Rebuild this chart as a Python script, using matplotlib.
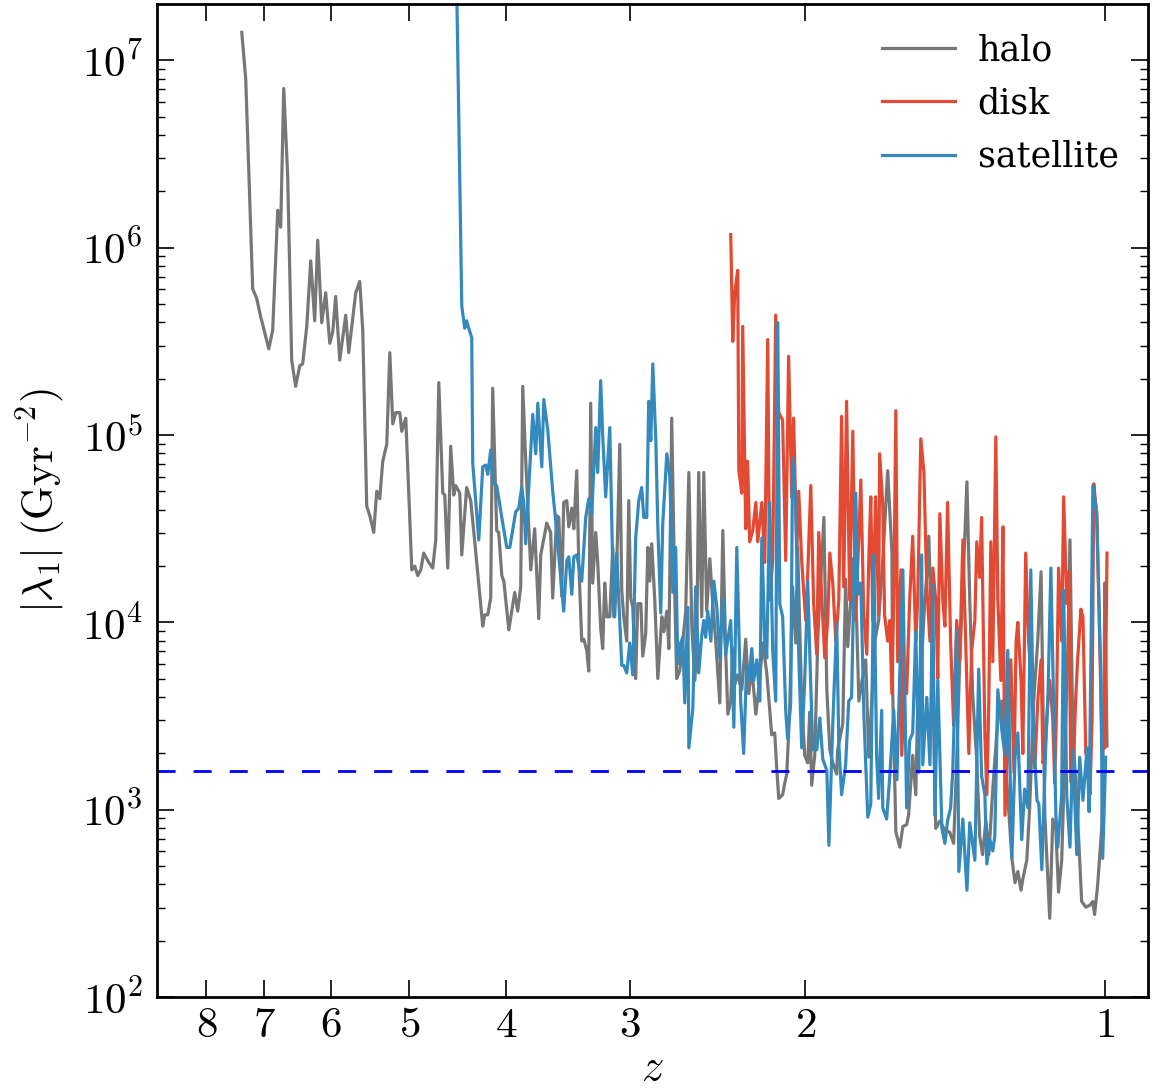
import numpy as np
import matplotlib
matplotlib.use('Agg')
import matplotlib.pyplot as plt
from matplotlib.ticker import FixedLocator, FixedFormatter, FuncFormatter, LogLocator, NullLocator

plt.rcParams['font.family'] = 'DejaVu Serif'
plt.rcParams['mathtext.fontset'] = 'cm'

# redshift of each snapshot and log10 |lambda_1| (Gyr^-2)
halo_z = [7.371, 7.304, 7.187, 7.121, 7.055, 7.022, 6.925, 6.862, 6.783, 6.736,
          6.689, 6.628, 6.567, 6.507, 6.446, 6.402, 6.342, 6.284, 6.226, 6.183,
          6.126, 6.070, 6.013, 5.972, 5.931, 5.876, 5.795, 5.755, 5.662, 5.610,
          5.571, 5.520, 5.481, 5.431, 5.394, 5.356, 5.319, 5.270, 5.233, 5.197,
          5.161, 5.113, 5.090, 5.043, 4.973, 4.939, 4.905, 4.871, 4.838, 4.782,
          4.738, 4.705, 4.672, 4.629, 4.608, 4.576, 4.545, 4.513, 4.492, 4.450,
          4.430, 4.380, 4.339, 4.299, 4.220, 4.201, 4.171, 4.143, 4.124, 4.086,
          4.067, 4.038, 4.019, 3.973, 3.919, 3.892, 3.865, 3.847, 3.821, 3.776,
          3.742, 3.707, 3.690, 3.639, 3.606, 3.589, 3.556, 3.539, 3.515, 3.499,
          3.474, 3.458, 3.434, 3.418, 3.395, 3.379, 3.356, 3.340, 3.317, 3.302,
          3.287, 3.272, 3.249, 3.234, 3.212, 3.197, 3.182, 3.167, 3.145, 3.123,
          3.109, 3.095, 3.073, 3.059, 3.045, 3.024, 3.010, 2.996, 2.982, 2.962,
          2.948, 2.927, 2.914, 2.894, 2.880, 2.867, 2.854, 2.834, 2.814, 2.788,
          2.775, 2.756, 2.743, 2.725, 2.706, 2.694, 2.675, 2.656, 2.638, 2.619,
          2.601, 2.583, 2.572, 2.560, 2.542, 2.530, 2.513, 2.495, 2.478, 2.461,
          2.438, 2.421, 2.405, 2.393, 2.377, 2.366, 2.355, 2.339, 2.317, 2.296,
          2.280, 2.264, 2.243, 2.227, 2.207, 2.187, 2.162, 2.147, 2.137, 2.127,
          2.108, 2.098, 2.088, 2.074, 2.060, 2.045, 2.036, 2.017, 2.003, 1.989,
          1.980, 1.971, 1.957, 1.943, 1.925, 1.916, 1.903, 1.890, 1.877, 1.860,
          1.856, 1.834, 1.822, 1.813, 1.801, 1.792, 1.776, 1.767, 1.755, 1.739,
          1.727, 1.715, 1.703, 1.688, 1.672, 1.653, 1.637, 1.634, 1.622, 1.607,
          1.596, 1.582, 1.575, 1.560, 1.549, 1.542, 1.528, 1.517, 1.510, 1.503,
          1.492, 1.479, 1.465, 1.448, 1.432, 1.419, 1.409, 1.399, 1.389, 1.376,
          1.367, 1.358, 1.345, 1.336, 1.327, 1.317, 1.308, 1.296, 1.281, 1.269,
          1.255, 1.240, 1.231, 1.223, 1.214, 1.209, 1.198, 1.190, 1.179, 1.168,
          1.159, 1.154, 1.149, 1.136, 1.128, 1.120, 1.113, 1.105, 1.097, 1.089,
          1.084, 1.077, 1.067, 1.055, 1.045, 1.035, 1.028, 1.024, 1.017, 1.007,
          1.002, 1.000, 0.995]
halo_loglam = [7.15, 6.90, 5.78, 5.73, 5.63, 5.59, 5.46, 5.56, 6.20, 6.11,
               6.85, 6.38, 5.40, 5.26, 5.37, 5.38, 5.58, 5.93, 5.61, 6.04,
               5.60, 5.76, 5.49, 5.55, 5.74, 5.40, 5.64, 5.44, 5.76, 5.82,
               5.56, 4.62, 4.57, 4.48, 4.70, 4.66, 4.86, 4.95, 5.44, 5.06,
               5.12, 5.12, 5.02, 5.09, 4.28, 4.30, 4.25, 4.28, 4.37, 4.32,
               4.29, 4.44, 5.28, 4.69, 4.68, 4.29, 4.94, 4.68, 4.73, 4.69,
               4.36, 4.72, 4.65, 4.43, 3.98, 4.04, 4.04, 4.13, 5.25, 4.49,
               4.48, 4.25, 4.22, 3.96, 4.16, 4.06, 4.19, 5.26, 4.87, 4.28,
               4.50, 4.02, 4.36, 4.53, 4.48, 4.13, 4.57, 4.56, 4.14, 4.64,
               4.65, 4.51, 4.61, 4.50, 4.81, 4.32, 3.90, 3.91, 3.85, 3.74,
               5.17, 4.21, 4.48, 4.32, 3.97, 3.86, 4.21, 4.03, 4.03, 4.40,
               4.03, 4.29, 4.95, 4.17, 4.03, 3.90, 4.65, 4.13, 4.08, 3.70,
               4.10, 4.10, 3.82, 3.94, 4.40, 4.22, 4.42, 4.12, 3.70, 4.03,
               3.95, 4.06, 3.86, 5.09, 4.16, 3.70, 3.74, 3.90, 4.06, 4.80,
               3.97, 3.69, 3.85, 4.80, 4.03, 4.80, 4.06, 4.34, 4.10, 3.90,
               3.57, 4.49, 3.85, 3.51, 3.58, 3.86, 3.67, 3.72, 3.64, 3.91,
               3.62, 3.76, 3.51, 3.65, 3.89, 3.73, 3.40, 3.41, 3.22, 3.06,
               3.08, 3.14, 3.19, 3.53, 4.19, 3.89, 4.40, 3.58, 3.29, 3.25,
               3.52, 3.13, 3.29, 3.92, 4.35, 4.56, 3.64, 3.32, 3.25, 3.19,
               3.32, 3.46, 4.23, 3.87, 4.11, 4.34, 4.00, 3.58, 3.68, 3.80,
               3.28, 3.58, 3.90, 4.01, 4.33, 4.81, 4.38, 3.64, 2.88, 2.80,
               2.91, 2.92, 2.97, 3.29, 3.08, 3.56, 3.80, 4.12, 4.25, 4.46,
               3.90, 2.90, 2.94, 2.89, 2.88, 2.82, 3.26, 3.80, 4.19, 4.75,
               4.12, 3.62, 3.26, 2.86, 2.76, 2.94, 2.76, 3.11, 3.49, 3.58,
               3.16, 2.74, 2.61, 2.67, 2.57, 2.63, 2.73, 3.01, 3.58, 3.90,
               4.27, 3.58, 2.97, 2.42, 2.95, 2.89, 2.56, 2.73, 3.29, 3.90,
               4.44, 3.41, 3.05, 2.51, 2.48, 2.49, 2.51, 2.44, 2.59, 2.91,
               3.58, 4.21, 3.34]

disk_z = [2.377, 2.366, 2.355, 2.339, 2.333, 2.317, 2.312, 2.296, 2.286, 2.275,
          2.259, 2.243, 2.233, 2.212, 2.197, 2.182, 2.172, 2.157, 2.142, 2.127,
          2.108, 2.093, 2.079, 2.064, 2.055, 2.040, 2.031, 2.017, 2.008, 1.998,
          1.989, 1.975, 1.962, 1.948, 1.939, 1.925, 1.912, 1.899, 1.890, 1.877,
          1.864, 1.851, 1.839, 1.830, 1.818, 1.805, 1.792, 1.780, 1.771, 1.759,
          1.747, 1.735, 1.727, 1.719, 1.711, 1.700, 1.688, 1.684, 1.672, 1.665,
          1.653, 1.645, 1.637, 1.630, 1.622, 1.615, 1.603, 1.600, 1.589, 1.582,
          1.571, 1.560, 1.549, 1.542, 1.531, 1.520, 1.510, 1.499, 1.489, 1.479,
          1.472, 1.465, 1.455, 1.448, 1.439, 1.429, 1.419, 1.409, 1.399, 1.389,
          1.380, 1.370, 1.361, 1.351, 1.345, 1.336, 1.330, 1.320, 1.314, 1.308,
          1.302, 1.296, 1.287, 1.281, 1.272, 1.266, 1.260, 1.252, 1.243, 1.234,
          1.228, 1.223, 1.214, 1.209, 1.201, 1.193, 1.184, 1.176, 1.168, 1.159,
          1.154, 1.149, 1.141, 1.136, 1.128, 1.123, 1.118, 1.113, 1.105, 1.100,
          1.092, 1.087, 1.082, 1.077, 1.070, 1.065, 1.057, 1.052, 1.045, 1.040,
          1.035, 1.030, 1.026, 1.019, 1.014, 1.007, 1.000, 0.995]
disk_loglam = [6.07, 5.50, 5.76, 5.88, 4.81, 4.69, 5.58, 4.50, 4.86, 4.43,
               4.49, 4.64, 4.43, 4.64, 4.32, 5.51, 4.12, 4.33, 5.64, 5.12,
               5.08, 4.33, 5.42, 4.67, 5.09, 4.37, 4.70, 4.33, 4.17, 4.01,
               4.26, 4.73, 4.10, 3.83, 4.48, 4.12, 3.81, 4.01, 4.37, 4.21,
               3.90, 4.12, 5.10, 4.19, 5.18, 4.12, 5.02, 4.01, 4.33, 4.76,
               4.04, 3.83, 4.33, 4.67, 4.01, 4.67, 4.04, 4.90, 4.63, 4.04,
               3.90, 4.01, 3.62, 4.12, 5.13, 3.79, 4.28, 3.29, 3.69, 3.62,
               4.12, 4.46, 3.90, 4.12, 4.98, 4.80, 4.19, 3.90, 4.29, 4.12,
               3.70, 4.58, 4.12, 3.98, 4.64, 3.90, 3.45, 4.01, 3.80, 4.44,
               3.90, 3.30, 3.85, 4.01, 4.43, 4.24, 4.56, 3.40, 3.08, 3.58,
               4.43, 3.79, 4.99, 4.12, 3.69, 4.51, 2.97, 3.35, 3.80, 3.20,
               3.90, 4.00, 3.69, 3.30, 4.37, 3.90, 3.64, 3.22, 3.58, 3.80,
               3.25, 3.30, 3.58, 3.69, 3.48, 3.14, 3.58, 4.29, 3.90, 4.67,
               4.10, 4.27, 3.15, 3.12, 3.58, 3.80, 4.07, 4.03, 3.30, 3.26,
               3.08, 3.48, 4.74, 4.58, 4.12, 3.37, 3.33, 4.37]

sat_z = [4.492, 4.430, 4.400, 4.380, 4.359, 4.329, 4.319, 4.259, 4.220, 4.191,
         4.171, 4.143, 4.124, 4.086, 4.038, 3.992, 3.964, 3.910, 3.883, 3.856,
         3.838, 3.821, 3.759, 3.733, 3.715, 3.681, 3.664, 3.631, 3.589, 3.564,
         3.523, 3.499, 3.474, 3.458, 3.434, 3.418, 3.395, 3.356, 3.325, 3.302,
         3.279, 3.249, 3.234, 3.212, 3.197, 3.175, 3.145, 3.116, 3.095, 3.059,
         3.045, 3.024, 3.003, 2.982, 2.962, 2.941, 2.921, 2.907, 2.887, 2.874,
         2.860, 2.847, 2.827, 2.814, 2.795, 2.782, 2.756, 2.737, 2.718, 2.700,
         2.687, 2.669, 2.656, 2.644, 2.625, 2.619, 2.595, 2.578, 2.560, 2.542,
         2.530, 2.519, 2.507, 2.489, 2.472, 2.455, 2.438, 2.421, 2.405, 2.377,
         2.360, 2.344, 2.323, 2.307, 2.291, 2.280, 2.264, 2.254, 2.238, 2.222,
         2.212, 2.197, 2.187, 2.172, 2.157, 2.142, 2.132, 2.122, 2.108, 2.093,
         2.084, 2.069, 2.060, 2.045, 2.031, 2.017, 2.003, 1.989, 1.980, 1.966,
         1.948, 1.934, 1.921, 1.903, 1.894, 1.877, 1.860, 1.851, 1.839, 1.822,
         1.809, 1.797, 1.780, 1.771, 1.759, 1.747, 1.731, 1.719, 1.707, 1.696,
         1.688, 1.676, 1.672, 1.657, 1.645, 1.630, 1.618, 1.607, 1.596, 1.582,
         1.571, 1.560, 1.549, 1.538, 1.528, 1.524, 1.510, 1.499, 1.489, 1.482,
         1.472, 1.458, 1.448, 1.439, 1.429, 1.422, 1.409, 1.402, 1.389, 1.376,
         1.367, 1.358, 1.351, 1.339, 1.330, 1.320, 1.314, 1.305, 1.296, 1.290,
         1.281, 1.269, 1.260, 1.252, 1.240, 1.231, 1.223, 1.212, 1.204, 1.195,
         1.187, 1.179, 1.170, 1.165, 1.157, 1.146, 1.141, 1.133, 1.120, 1.115,
         1.105, 1.100, 1.092, 1.084, 1.077, 1.067, 1.060, 1.052, 1.042, 1.037,
         1.028, 1.019, 1.009, 1.005, 0.998]
sat_loglam = [7.71, 5.69, 5.57, 5.61, 5.57, 5.52, 4.85, 4.44, 4.83, 4.84,
              4.79, 4.92, 4.75, 4.73, 4.56, 4.40, 4.40, 4.59, 4.61, 4.72,
              4.64, 4.42, 5.11, 4.90, 5.17, 4.83, 5.19, 5.03, 4.70, 4.54,
              4.24, 4.06, 4.33, 4.35, 4.15, 4.35, 4.36, 4.22, 4.56, 4.66,
              4.58, 5.04, 4.80, 5.29, 5.00, 4.67, 5.04, 4.03, 4.37, 3.77,
              3.77, 3.73, 3.89, 3.72, 4.45, 4.65, 4.72, 4.56, 4.56, 5.18,
              4.97, 5.38, 4.97, 4.51, 4.05, 4.53, 4.90, 4.78, 4.16, 4.40,
              3.78, 3.89, 3.92, 3.57, 4.08, 3.33, 3.54, 4.19, 3.73, 3.93,
              4.01, 3.92, 4.06, 3.90, 4.22, 4.08, 3.81, 4.12, 3.83, 4.01,
              3.44, 4.40, 3.58, 3.30, 3.77, 3.69, 3.86, 3.69, 3.80, 3.58,
              4.45, 3.90, 3.81, 4.64, 3.85, 3.58, 5.60, 4.10, 4.03, 3.53,
              3.38, 3.57, 4.88, 4.64, 3.83, 3.33, 3.69, 4.22, 3.85, 3.32,
              3.32, 3.49, 3.27, 3.21, 2.81, 3.46, 4.00, 3.35, 3.08, 3.24,
              3.58, 3.60, 4.69, 4.15, 4.21, 3.52, 2.96, 3.03, 4.36, 3.29,
              3.06, 3.53, 3.01, 2.95, 3.18, 3.53, 3.16, 3.75, 4.28, 3.01,
              3.37, 3.41, 3.95, 3.20, 4.36, 3.24, 3.60, 3.24, 4.20, 2.97,
              3.69, 2.90, 2.82, 2.94, 3.01, 3.20, 3.96, 2.67, 2.95, 2.57,
              2.93, 2.82, 2.73, 3.75, 3.18, 3.08, 2.71, 2.84, 2.78, 2.86,
              3.64, 3.42, 3.29, 3.85, 2.74, 3.28, 3.41, 2.84, 3.11, 3.01,
              4.28, 3.39, 3.05, 3.03, 2.68, 3.37, 3.58, 4.29, 2.97, 2.80,
              3.08, 4.17, 3.07, 2.80, 3.32, 2.76, 3.28, 3.05, 3.33, 2.99,
              4.73, 4.59, 3.68, 2.74, 3.28]

threshold = 1.6e3

series = [
    ('halo', halo_z, halo_loglam, '#777777'),
    ('disk', disk_z, disk_loglam, '#E24A33'),
    ('satellite', sat_z, sat_loglam, '#348ABD'),
]

fig = plt.figure(figsize=(11.55, 10.92), dpi=100)
ax = fig.add_axes([0.1359, 0.0870, 0.8580, 0.9093])

for name, z, loglam, color in series:
    ax.plot(z, 10 ** np.array(loglam), color=color, lw=2.3, label=name)

ax.axhline(threshold, color='#0000ff', lw=2, dashes=(6.5, 6.5))

ax.set_xscale('log')
ax.set_yscale('log')
ax.set_xlim(8.97, 0.905)
ax.set_ylim(1e2, 2e7)

zticks = [8, 7, 6, 5, 4, 3, 2, 1]
ax.xaxis.set_major_locator(FixedLocator(zticks))
ax.xaxis.set_major_formatter(FixedFormatter(['$%d$' % t for t in zticks]))
ax.xaxis.set_minor_locator(NullLocator())
ax.yaxis.set_major_locator(LogLocator(base=10, numticks=10))
ax.yaxis.set_major_formatter(FuncFormatter(lambda v, p: '$10^{%d}$' % round(np.log10(v))))
ax.yaxis.set_minor_locator(LogLocator(base=10, subs=np.arange(2, 10), numticks=10))

ax.tick_params(which='both', direction='in', top=True, right=True, labelsize=31)
ax.tick_params(axis='y', which='major', length=12, width=1.2, pad=10)
ax.tick_params(axis='x', which='major', length=12, width=1.2, pad=5)
ax.tick_params(which='minor', length=6, width=1.0)
for sp in ax.spines.values():
    sp.set_linewidth(2)

ax.set_xlabel('$z$', fontsize=32, labelpad=0)
ax.set_ylabel(r'$|\lambda_1|\;(\mathrm{Gyr}^{-2})$', fontsize=31, labelpad=10)

ax.legend(loc='upper right', frameon=False, fontsize=25, handlelength=2.1,
          handletextpad=0.65, labelspacing=0.55, borderaxespad=0.45)

fig.savefig('out.png', dpi=100)
